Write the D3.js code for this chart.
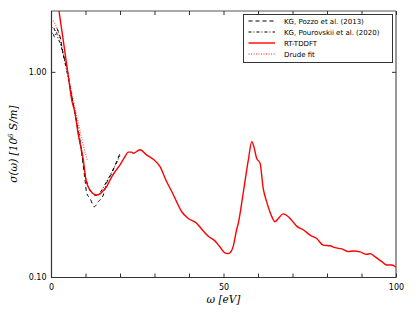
<!DOCTYPE html>
<html><head><meta charset="utf-8">
<script src="https://cdn.jsdelivr.net/npm/d3@7"></script>
<style>html,body{margin:0;padding:0;background:#fff;}svg{display:block;}</style>
</head><body>
<script>
// ---- data ----
const rtX = [2.0,2.32,3,4,5,6.0,6.96,7.83,9.36,10.14,11.3,13.25,14.2,15.07,16.14,17.6,18.55,20.0,21.45,22.4,23.4,23.85,25.8,27.7,29.65,31.6,33.5,35.0,36.4,37.9,39.8,42.2,43.7,45.6,47.5,49.0,50.4,51.4,52.4,52.8,53.8,54.3,55.7,57.2,58.2,58.8,59.6,60.6,61.5,62.5,64.0,64.9,65.9,67.3,69.3,71.2,73.1,75.1,77.0,78.9,80.9,82.3,84.3,86.2,87.6,89.6,91.5,92.5,93.9,95.9,97.3,98.8,100.0];
const rtY = [2.16,1.98,1.65,1.26,0.958,0.730,0.631,0.503,0.373,0.297,0.266,0.251,0.254,0.263,0.276,0.308,0.326,0.352,0.386,0.406,0.406,0.401,0.417,0.394,0.375,0.345,0.292,0.261,0.233,0.208,0.193,0.183,0.171,0.158,0.150,0.140,0.131,0.130,0.135,0.141,0.170,0.183,0.256,0.372,0.457,0.432,0.379,0.359,0.271,0.233,0.197,0.186,0.193,0.203,0.193,0.177,0.170,0.160,0.154,0.143,0.142,0.139,0.137,0.133,0.134,0.1325,0.129,0.130,0.1256,0.1188,0.1144,0.1144,0.1115];

const pozzoX = [0,0.2,0.67,1.16,1.65,2.1,2.6,3.57,4.55,5.5,6.96,8.4,9.86,10.35,11.3,12.55,13.7,15.16,16.1,17.6,19.0,20.0];
const pozzoY = [1.58,1.634,1.663,1.585,1.634,1.573,1.486,1.21,1.062,0.848,0.629,0.466,0.297,0.256,0.242,0.220,0.233,0.251,0.286,0.320,0.365,0.401];

const pourX = [0,0.5,1,1.5,2,3,4,5,6,7,8,9,10,11,12,13,14,15,16,17,18,19,20];
const pourY = [1.45,1.55,1.48,1.56,1.47,1.32,1.12,0.93,0.76,0.62,0.50,0.39,0.31,0.27,0.255,0.25,0.255,0.27,0.29,0.31,0.335,0.36,0.39];

const drudeX = [0,1,2,3,4,5,6,7,8,9,10,10.5];
const drudeY = [1.80,1.739,1.576,1.359,1.152,0.957,0.794,0.661,0.553,0.467,0.398,0.369];

const xTicks = [0,10,20,30,40,50,60,70,80,90,100];
const xTickLabels = ["0","","","","","50","","","","","100"];
const yTicks = [0.1,1.0];
const yTickLabels = ["0.10","1.00"];
const legendLabels = ["KG, Pozzo et al. (2013)","KG, Pourovskii et al. (2020)","RT-TDDFT","Drude fit"];

// ---- layout ----
const W=416,H=317;
const L=51,T=11,R=396,B=277;
const svg=d3.select("body").append("svg").attr("width",W).attr("height",H);
const x=d3.scaleLinear().domain([0,100]).range([L,R]);
const y=d3.scaleLog().domain([0.1,1.98]).range([B,T]);

svg.append("defs").append("clipPath").attr("id","clip")
  .append("rect").attr("x",L).attr("y",T).attr("width",R-L).attr("height",B-T);

const g=svg.append("g").attr("clip-path","url(#clip)");
const line=d3.line().x(d=>x(d[0])).y(d=>y(d[1])).curve(d3.curveMonotoneX);

function series(xs,ys,stroke,w,dash){
  g.append("path").datum(xs.map((v,i)=>[v,ys[i]]))
   .attr("d",line).attr("fill","none").attr("stroke",stroke)
   .attr("stroke-width",w).attr("stroke-dasharray",dash||null);
}
series(drudeX,drudeY,"#ff6060",1.3,"1,1.5");
series(pozzoX,pozzoY,"#000",1,"4,3");
series(pourX,pourY,"#000",1,"3,2,1,2");
series(rtX,rtY,"#ff0000",1.4,null);

// axes frame
const ax=svg.append("g");
ax.append("line").attr("x1",L+0.5).attr("x2",L+0.5).attr("y1",T).attr("y2",B+0.5).attr("stroke","#333").attr("stroke-width",1.2);
ax.append("line").attr("x1",L).attr("x2",R).attr("y1",B+0.5).attr("y2",B+0.5).attr("stroke","#333").attr("stroke-width",1.2);
ax.append("line").attr("x1",R).attr("x2",R).attr("y1",T).attr("y2",B+0.5).attr("stroke","#555").attr("stroke-width",1.2);
ax.append("line").attr("x1",L).attr("x2",R).attr("y1",T).attr("y2",T).attr("stroke","#555").attr("stroke-width",1.2);

// x ticks via d3 axis (inward)
const xa=d3.axisBottom(x).tickValues(xTicks).tickSize(-4).tickPadding(7)
  .tickFormat((d,i)=>xTickLabels[i]);
const xg=svg.append("g").attr("transform",`translate(0,${B+0.5})`).call(xa);
xg.select(".domain").remove();
xg.selectAll("line").attr("stroke","#333");
xg.selectAll("text").attr("font-family","DejaVu Sans").attr("font-size",8).attr("fill","#000");
const xt=d3.axisTop(x).tickValues(xTicks).tickSize(-4).tickFormat("");
const xtg=svg.append("g").attr("transform",`translate(0,${T})`).call(xt);
xtg.select(".domain").remove(); xtg.selectAll("line").attr("stroke","#333");

const ya=d3.axisLeft(y).tickValues(yTicks).tickSize(-4).tickPadding(5)
  .tickFormat((d,i)=>yTickLabels[i]);
const yg=svg.append("g").attr("transform",`translate(${L+0.5},0)`).call(ya);
yg.select(".domain").remove();
yg.selectAll("line").attr("stroke","#333");
yg.selectAll("text").attr("font-family","DejaVu Sans").attr("font-size",8).attr("fill","#000");
const yr=d3.axisRight(y).tickValues(yTicks).tickSize(-4).tickFormat("");
const yrg=svg.append("g").attr("transform",`translate(${R},0)`).call(yr);
yrg.select(".domain").remove(); yrg.selectAll("line").attr("stroke","#333");

// axis labels
svg.append("text").attr("x",(L+R)/2).attr("y",303).attr("text-anchor","middle")
  .attr("font-family","DejaVu Serif").attr("font-style","italic").attr("font-size",10.5)
  .text("ω [eV]");
const yl=svg.append("text").attr("transform",`translate(17,${(T+B)/2}) rotate(-90)`)
  .attr("text-anchor","middle").attr("font-family","DejaVu Serif").attr("font-style","italic").attr("font-size",10.5);
yl.append("tspan").text("σ(ω) [10");
yl.append("tspan").attr("dy",-4).attr("font-size",7).text("6");
yl.append("tspan").attr("dy",4).text(" S/m]");

// legend
const lg=svg.append("g");
lg.append("rect").attr("x",243.5).attr("y",14.5).attr("width",149).attr("height",48)
  .attr("fill","#fff").attr("stroke","#333").attr("stroke-width",1);
const styles=[["#000","4,3",1],["#000","3,2,1,2",1],["#ff0000",null,1.4],["#ff6060","1,1.5",1.3]];
const rowY=[21,32,43,54];
legendLabels.forEach((t,i)=>{
  lg.append("line").attr("x1",248.5).attr("x2",275).attr("y1",rowY[i]).attr("y2",rowY[i])
    .attr("stroke",styles[i][0]).attr("stroke-dasharray",styles[i][1]).attr("stroke-width",styles[i][2]);
  lg.append("text").attr("x",284).attr("y",rowY[i]+2.5).attr("font-family","DejaVu Sans")
    .attr("font-size",7).attr("fill","#000").text(t);
});
</script>
</body></html>
